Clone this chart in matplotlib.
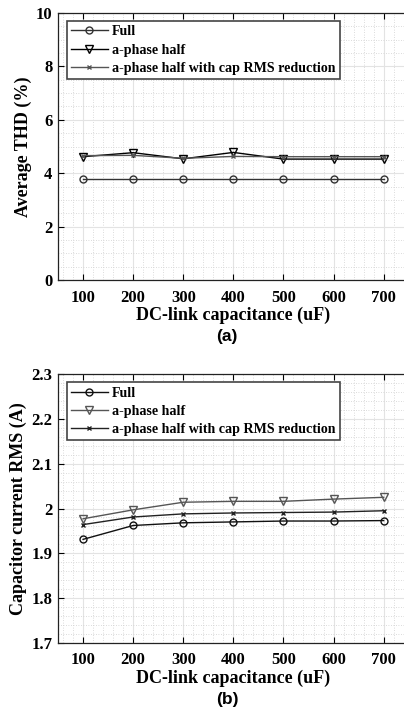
import numpy as np
import matplotlib.pyplot as plt
from matplotlib.ticker import MultipleLocator

plt.rcParams['font.family'] = ['Liberation Serif', 'DejaVu Serif']
plt.rcParams['font.weight'] = 'bold'

# DC-link capacitance sweep (uF)
cap = [100, 200, 300, 400, 500, 600, 700]
labels = ['Full', 'a-phase half', 'a-phase half with cap RMS reduction']

# (a) average THD (%)
thd_full = [3.77, 3.77, 3.77, 3.77, 3.77, 3.77, 3.77]
thd_half = [4.62, 4.77, 4.54, 4.78, 4.53, 4.53, 4.53]
thd_half_red = [4.66, 4.67, 4.56, 4.63, 4.62, 4.62, 4.62]

# (b) capacitor current RMS (A)
rms_full = [1.931, 1.962, 1.968, 1.970, 1.972, 1.972, 1.973]
rms_half = [1.977, 1.997, 2.014, 2.016, 2.016, 2.021, 2.025]
rms_half_red = [1.964, 1.981, 1.988, 1.990, 1.991, 1.992, 1.995]

fig = plt.figure(figsize=(4.04, 7.10), dpi=100)
ax1 = fig.add_axes([0.1436, 0.6056, 0.93, 0.376])
ax2 = fig.add_axes([0.1436, 0.0948, 0.93, 0.378])

AX_W = 0.93 * 404  # axes width in pixels


def style_axes(ax, ylim, ymajor, yminor, ylabel, ylab_x, tag):
    ax.set_xlim(50, 800)
    ax.set_ylim(*ylim)
    ax.yaxis.set_major_locator(MultipleLocator(ymajor))
    ax.yaxis.set_minor_locator(MultipleLocator(yminor))
    ax.xaxis.set_minor_locator(MultipleLocator(20))
    ax.set_xticks(cap)
    ax.grid(True, which='major', color='#e3e3e3', linewidth=0.8, linestyle='-')
    ax.grid(True, which='minor', color='#cfcfcf', linewidth=0.6, linestyle=(0, (1, 2)))
    ax.set_axisbelow(True)
    ax.tick_params(which='major', direction='in', length=4, width=0.8,
                   top=True, right=True, labelsize=12)
    ax.tick_params(axis='x', pad=7)
    ax.tick_params(axis='y', pad=4)
    ax.tick_params(which='minor', length=0)
    for lab in ax.get_xticklabels() + ax.get_yticklabels():
        lab.set_fontweight('bold')
    for s in ax.spines.values():
        s.set_linewidth(0.9)
        s.set_color('#222222')
    ax.set_xlabel('DC-link capacitance (uF)', fontsize=13, fontweight='bold')
    ax.xaxis.set_label_coords((233 - 58) / AX_W, -0.100)
    ax.set_ylabel(ylabel, fontsize=13, fontweight='bold')
    ax.yaxis.set_label_coords(ylab_x, 0.5)
    ax.text((227 - 58) / AX_W, -0.185, tag, transform=ax.transAxes, fontsize=12.5,
            fontweight='bold', family='Liberation Sans', ha='center', va='top')


def draw(ax, full, half, half_red, colors):
    ax.plot(cap, full, color=colors[0], marker='o', markersize=5,
            markerfacecolor='none', linewidth=1.0, label=labels[0])
    ax.plot(cap, half, color=colors[1], marker='v', markersize=6,
            markerfacecolor='none', linewidth=1.0, label=labels[1])
    ax.plot(cap, half_red, color=colors[2], marker='x', markersize=3.5,
            markeredgewidth=1.0, linewidth=1.0, label=labels[2])
    leg = ax.legend(loc='upper left', bbox_to_anchor=(0.024, 0.97),
                    prop={'weight': 'bold', 'size': 10.1}, frameon=True, fancybox=False,
                    handlelength=2.6, handletextpad=0.3, borderpad=0.3,
                    labelspacing=0.38, borderaxespad=0.0)
    leg.get_frame().set_edgecolor('#444444')
    leg.get_frame().set_linewidth(1.2)
    leg.get_frame().set_alpha(1.0)


draw(ax1, thd_full, thd_half, thd_half_red, ['#333333', '#000000', '#555555'])
style_axes(ax1, (0, 10), 2, 0.5, 'Average THD (%)', (32 - 58) / AX_W, '(a)')

draw(ax2, rms_full, rms_half, rms_half_red, ['#111111', '#555555', '#222222'])
style_axes(ax2, (1.7, 2.3), 0.1, 0.02, 'Capacitor current RMS (A)', (27 - 58) / AX_W, '(b)')
ax2.yaxis.set_major_formatter(plt.FuncFormatter(lambda v, p: f'{v:g}'))

fig.savefig('out.png', dpi=100)
